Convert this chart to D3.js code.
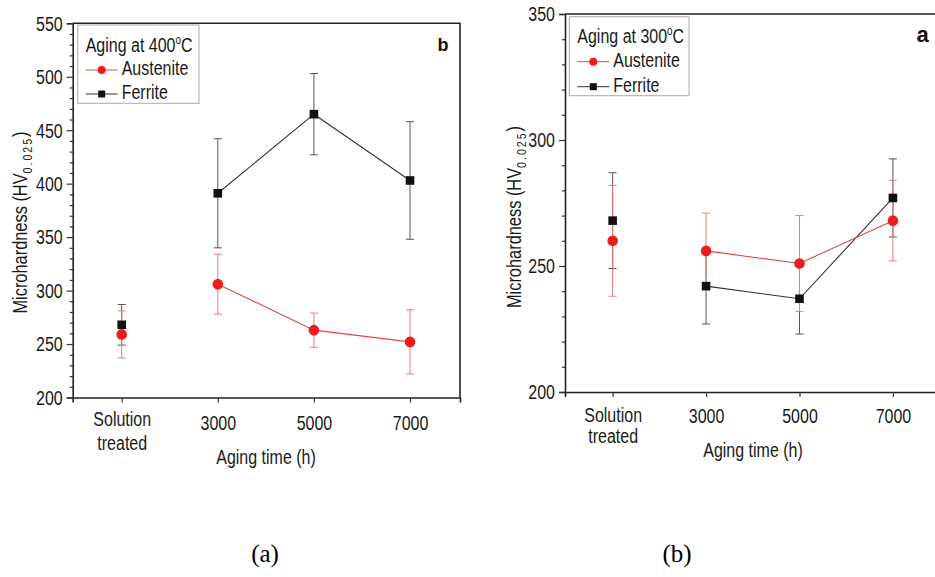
<!DOCTYPE html>
<html>
<head>
<meta charset="utf-8">
<script src="https://cdn.jsdelivr.net/npm/d3@7"></script>
<style>
  body { margin: 0; background: #fff; }
  svg { display: block; font-family: "Liberation Sans", Arial, sans-serif; }
</style>
</head>
<body>
<svg id="fig" width="935" height="577"></svg>
<script>
// category labels (multi-line) and y tick values
const categories = [["Solution", "treated"], ["3000"], ["5000"], ["7000"]];
const yTicks400 = [200, 250, 300, 350, 400, 450, 500, 550];
const yTicks300 = [200, 250, 300, 350];

// aging at 400 C
const austenite400 = [259, 306, 263, 252];
const austenite400Err = [22, 28, 16, 30];
const ferrite400 = [268, 391, 465, 403];
const ferrite400Err = [19, 51, 38, 55];

// aging at 300 C
const austenite300 = [260, 256, 251, 268];
const austenite300Err = [22, 15, 19, 16];
const ferrite300 = [268, 242, 237, 277];
const ferrite300Err = [19, 15, 14, 15.5];

const svg = d3.select("#fig");
svg.append("rect").attr("width", 935).attr("height", 577).attr("fill", "#fff");

const RED = "#ee1c1c", BLACK = "#111";
const FS = 19.5;   // font size
const SX = 0.82;   // horizontal squeeze, the original uses a narrow face

// narrow text anchored at (x,y)
function ntext(parent, x, y, size, extra = "") {
	return parent.append("g")
		.attr("transform", `translate(${x},${y}) ${extra} scale(${SX},1)`)
		.append("text").attr("font-size", size).attr("fill", "#1a1a1a");
}

function panel(o) {
	const g = svg.append("g");
	const x = d3.scaleLinear([-0.51, 3.52], [o.left, o.right]);
	const y = d3.scaleLinear([200, o.yMax], [o.bottom, o.top]);

	// top + right frame
	g.append("path")
	 .attr("d", `M${o.left},${o.top}H${o.right}V${o.bottom}`)
	 .attr("fill", "none").attr("stroke", "#222").attr("stroke-width", 1.6);

	// y axis, major + minor
	const minors = d3.range(200, o.yMax, 10).filter(v => v % 50 != 0);
	g.append("g").attr("transform", `translate(${o.left},0)`)
	 .call(d3.axisLeft(y).tickValues(minors).tickSize(3).tickFormat(""))
	 .call(a => a.select(".domain").remove());
	const ya = g.append("g").attr("transform", `translate(${o.left},0)`)
	 .call(d3.axisLeft(y).tickValues(o.yTicks).tickSize(6).tickPadding(4).tickFormat(d3.format("d")));

	// x axis
	const xa = g.append("g").attr("transform", `translate(0,${o.bottom})`)
	 .call(d3.axisBottom(x).tickValues([0, 1, 2, 3]).tickSize(5).tickFormat(i => categories[i].join(" ")));
	xa.selectAll(".tick text").each(function (i) {
		const t = d3.select(this).text(null).attr("dy", null);
		const lines = categories[i];
		lines.forEach((s, k) => t.append("tspan")
			.attr("x", 0)
			.attr("y", lines.length > 1 ? o.lab2[k] : o.lab1)
			.text(s));
	});

	[ya, xa].forEach(a => {
		a.attr("font-size", FS).attr("font-family", null);
		a.select(".domain").attr("stroke", "#222").attr("stroke-width", 1.6);
		a.selectAll(".tick text").attr("fill", "#1a1a1a").attr("transform", `scale(${SX},1)`);
	});
	ya.selectAll(".tick text").attr("x", -10 / SX).attr("dy", "0.35em");
	g.selectAll(".tick line").attr("stroke", "#333").attr("stroke-width", 1.2);

	// axis titles
	ntext(g, o.xTitle[0], o.xTitle[1], FS).attr("text-anchor", "middle").text("Aging time (h)");
	const yt = ntext(g, o.yTitle[0], o.yTitle[1], 20, "rotate(-90)").attr("text-anchor", "middle");
	yt.append("tspan").text("Microhardness (HV");
	yt.append("tspan").attr("font-size", 13).attr("letter-spacing", 2.4).attr("dy", 5).text("0.025");
	yt.append("tspan").attr("dy", -5).text(")");

	// series
	const series = [
		{ v: o.fer, e: o.ferErr, bar: "#555", line: "#333", kind: "sq" },
		{ v: o.aus, e: o.ausErr, bar: "#ee7a7a", line: "#e04848", kind: "ci" }
	];
	series.forEach(s => {
		const eg = g.append("g").attr("stroke", s.bar).attr("stroke-width", 1);
		s.v.forEach((v, i) => {
			const cx = x(i), lo = y(v - s.e[i]), hi = y(v + s.e[i]);
			eg.append("line").attr("x1", cx).attr("x2", cx).attr("y1", lo).attr("y2", hi);
			eg.append("line").attr("x1", cx - 4).attr("x2", cx + 4).attr("y1", lo).attr("y2", lo);
			eg.append("line").attr("x1", cx - 4).attr("x2", cx + 4).attr("y1", hi).attr("y2", hi);
		});
	});
	series.forEach(s => {
		const pts = s.v.map((v, i) => [x(i), y(v)]).slice(1);
		g.append("path").attr("d", d3.line()(pts))
		 .attr("fill", "none").attr("stroke", s.line).attr("stroke-width", 1.1);
	});
	series.forEach(s => {
		s.v.forEach((v, i) => {
			if (s.kind == "ci")
				g.append("circle").attr("cx", x(i)).attr("cy", y(v)).attr("r", 5.3).attr("fill", RED);
			else
				g.append("rect").attr("x", x(i) - 4.3).attr("y", y(v) - 4.3)
				 .attr("width", 8.6).attr("height", 8.6).attr("fill", BLACK);
		});
	});

	// legend
	const L = o.legend;
	const lg = g.append("g");
	lg.append("rect").attr("x", L.x).attr("y", L.y).attr("width", L.w).attr("height", L.h)
	  .attr("fill", "#fff").attr("stroke", "#aaa").attr("stroke-width", 1);
	const tt = ntext(lg, L.x + 8, L.y + L.rows[0], FS);
	tt.append("tspan").text(o.title);
	tt.append("tspan").attr("font-size", 12).attr("dy", -8).text("o");
	tt.append("tspan").attr("dy", 8).text("C");
	[["Austenite", "#e04848", "ci"], ["Ferrite", "#333", "sq"]].forEach(([name, col, kind], k) => {
		const ly = L.y + L.rows[k + 1];
		const mx = L.x + 24;
		lg.append("line").attr("x1", L.x + 8).attr("x2", L.x + 40).attr("y1", ly - 5).attr("y2", ly - 5)
		  .attr("stroke", col).attr("stroke-width", 1);
		if (kind == "ci")
			lg.append("circle").attr("cx", mx).attr("cy", ly - 5).attr("r", 4).attr("fill", RED);
		else
			lg.append("rect").attr("x", mx - 3.5).attr("y", ly - 8.5).attr("width", 7).attr("height", 7).attr("fill", BLACK);
		ntext(lg, L.x + 44, ly, FS).text(name);
	});

	// panel letter
	g.append("text").attr("x", o.letter[0]).attr("y", o.letter[1])
	 .attr("text-anchor", "middle").attr("font-weight", "bold")
	 .attr("font-size", o.letter[2]).attr("fill", "#111").text(o.letter[3]);
}

panel({
	left: 72.7, right: 460, top: 23.3, bottom: 397.5, yMax: 550, yTicks: yTicks400,
	aus: austenite400, ausErr: austenite400Err, fer: ferrite400, ferErr: ferrite400Err,
	lab1: 32.5, lab2: [29, 52.5],
	xTitle: [266, 464], yTitle: [27, 222.5],
	title: "Aging at 400",
	legend: { x: 77.7, y: 25, w: 121.3, h: 78.3, rows: [26.7, 50, 74] },
	letter: [443, 51, 18, "b"]
});

panel({
	left: 565, right: 941.5, top: 14, bottom: 392, yMax: 350, yTicks: yTicks300,
	aus: austenite300, ausErr: austenite300Err, fer: ferrite300, ferErr: ferrite300Err,
	lab1: 31, lab2: [29.7, 51],
	xTitle: [753, 457.3], yTitle: [521, 217],
	title: "Aging at 300",
	legend: { x: 569.3, y: 16.7, w: 119.7, h: 79, rows: [26.6, 50, 75] },
	letter: [922.5, 41.5, 22, "a"]
});

// figure captions
svg.append("text").attr("x", 265).attr("y", 562).attr("text-anchor", "middle")
   .attr("font-family", "'Liberation Serif', 'Times New Roman', serif").attr("font-size", 25)
   .attr("fill", "#000").text("(a)");
svg.append("text").attr("x", 677).attr("y", 562).attr("text-anchor", "middle")
   .attr("font-family", "'Liberation Serif', 'Times New Roman', serif").attr("font-size", 25)
   .attr("fill", "#000").text("(b)");
</script>
</body>
</html>
